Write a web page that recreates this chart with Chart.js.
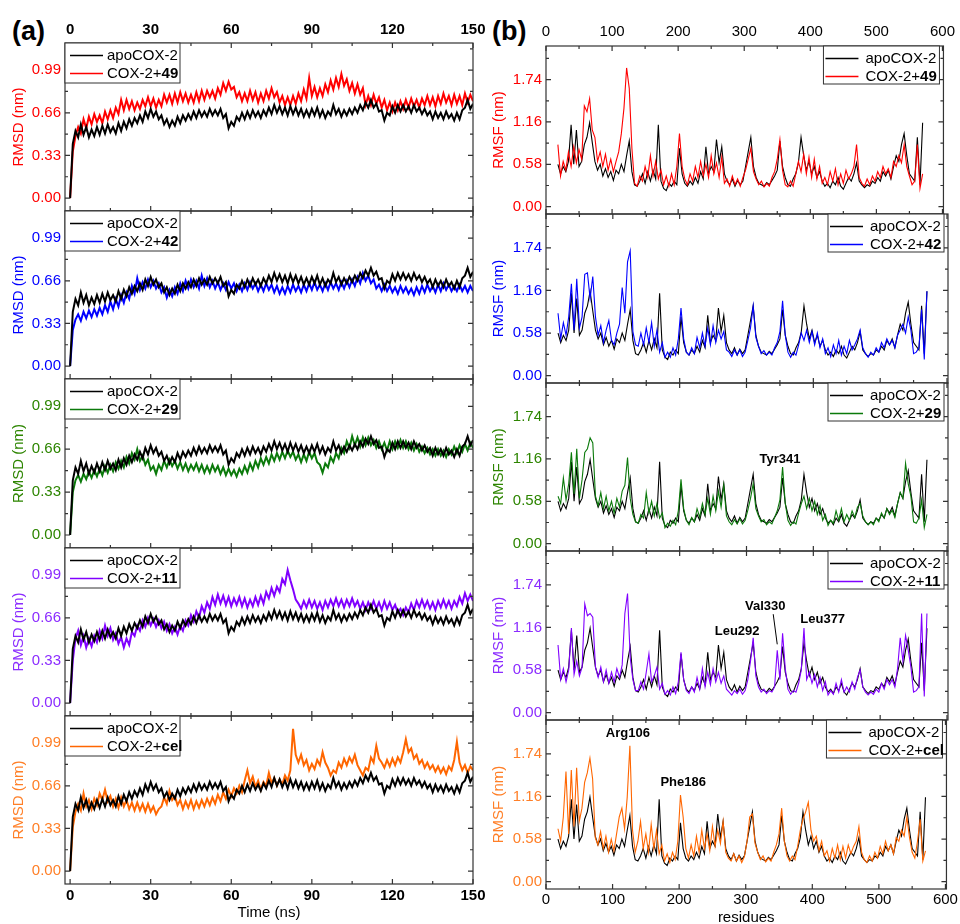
<!DOCTYPE html>
<html>
<head>
<meta charset="utf-8">
<script src="https://cdn.jsdelivr.net/npm/chart.js@4/dist/chart.umd.min.js"></script>
<style>
  html, body { margin: 0; padding: 0; background: #fff; width: 960px; height: 924px; overflow: hidden; }
  canvas { position: absolute; }
  .tag { position: absolute; font: bold 27px "Liberation Sans", Arial, sans-serif; line-height: 1; color: #000; }
</style>
</head>
<body>
<div class="tag" style="left:12px;top:18px">(a)</div>
<div class="tag" style="left:492px;top:18px">(b)</div>
<script>
// ---- data ----
var timeNs = [
  0,1,2,3,4,5,6,7,8,9,10,11,12,13,14,15,16,17,18,19,20,21,22,23,24,25,26,27,28,29,
  30,31,32,33,34,35,36,37,38,39,40,41,42,43,44,45,46,47,48,49,50,51,52,53,54,55,56,57,58,59,
  60,61,62,63,64,65,66,67,68,69,70,71,72,73,74,75,76,77,78,79,80,81,82,83,84,85,86,87,88,89,
  90,91,92,93,94,95,96,97,98,99,100,101,102,103,104,105,106,107,108,109,110,111,112,113,114,115,116,117,118,119,
  120,121,122,123,124,125,126,127,128,129,130,131,132,133,134,135,136,137,138,139,140,141,142,143,144,145,146,147,148,149,150
];

var rmsdApo = [
  0.00,0.42,0.52,0.47,0.57,0.49,0.55,0.47,0.53,0.48, 0.55,0.49,0.56,0.50,0.57,0.51,0.55,0.50,0.58,0.52,
  0.59,0.54,0.61,0.56,0.62,0.58,0.64,0.59,0.67,0.62, 0.69,0.63,0.67,0.61,0.64,0.57,0.61,0.55,0.60,0.56,
  0.63,0.58,0.64,0.60,0.65,0.61,0.67,0.62,0.68,0.63, 0.67,0.63,0.69,0.64,0.68,0.64,0.69,0.62,0.65,0.54,
  0.59,0.56,0.63,0.60,0.66,0.61,0.67,0.62,0.68,0.63, 0.67,0.62,0.68,0.64,0.70,0.65,0.72,0.66,0.71,0.65,
  0.70,0.64,0.71,0.65,0.70,0.64,0.69,0.63,0.68,0.63, 0.69,0.64,0.70,0.63,0.68,0.62,0.67,0.64,0.72,0.65,
  0.69,0.63,0.68,0.64,0.69,0.65,0.70,0.66,0.72,0.68, 0.74,0.70,0.76,0.70,0.73,0.67,0.68,0.60,0.66,0.64,
  0.71,0.66,0.72,0.67,0.72,0.67,0.71,0.66,0.72,0.67, 0.70,0.65,0.69,0.64,0.67,0.61,0.67,0.62,0.66,0.61,
  0.67,0.62,0.65,0.60,0.66,0.61,0.68,0.70,0.76,0.69, 0.73
];
var rmsd49 = [
  0.00,0.36,0.48,0.55,0.50,0.61,0.54,0.63,0.57,0.65, 0.59,0.64,0.58,0.67,0.61,0.68,0.62,0.70,0.65,0.76,
  0.68,0.76,0.69,0.75,0.68,0.74,0.69,0.76,0.71,0.78, 0.71,0.77,0.70,0.76,0.71,0.80,0.74,0.80,0.73,0.81,
  0.74,0.82,0.75,0.81,0.74,0.80,0.74,0.82,0.75,0.83, 0.76,0.83,0.78,0.83,0.77,0.85,0.80,0.89,0.83,0.90,
  0.84,0.86,0.78,0.82,0.75,0.81,0.75,0.83,0.76,0.82, 0.74,0.81,0.75,0.83,0.77,0.85,0.78,0.82,0.74,0.79,
  0.72,0.78,0.72,0.79,0.73,0.81,0.75,0.84,0.77,0.93, 0.79,0.86,0.78,0.85,0.79,0.88,0.82,0.91,0.84,0.93,
  0.86,0.96,0.87,0.92,0.83,0.89,0.81,0.88,0.80,0.85, 0.72,0.79,0.72,0.80,0.73,0.78,0.70,0.76,0.68,0.74,
  0.67,0.74,0.68,0.75,0.69,0.76,0.70,0.77,0.71,0.76, 0.70,0.77,0.72,0.79,0.72,0.78,0.71,0.79,0.73,0.81,
  0.74,0.79,0.72,0.80,0.73,0.79,0.72,0.81,0.74,0.80, 0.75
];
var rmsd42 = [
  0.00,0.28,0.36,0.40,0.35,0.42,0.37,0.43,0.38,0.44, 0.39,0.45,0.40,0.47,0.42,0.50,0.44,0.52,0.46,0.55,
  0.49,0.57,0.52,0.62,0.56,0.68,0.59,0.65,0.60,0.67, 0.61,0.66,0.60,0.64,0.57,0.61,0.53,0.59,0.54,0.61,
  0.56,0.64,0.58,0.66,0.60,0.67,0.61,0.66,0.60,0.70, 0.62,0.68,0.61,0.66,0.60,0.65,0.59,0.64,0.59,0.65,
  0.60,0.64,0.58,0.63,0.58,0.64,0.59,0.65,0.60,0.64, 0.58,0.63,0.58,0.64,0.59,0.63,0.57,0.62,0.56,0.61,
  0.56,0.62,0.57,0.63,0.58,0.62,0.57,0.63,0.58,0.64, 0.59,0.65,0.59,0.63,0.58,0.64,0.59,0.65,0.60,0.64,
  0.59,0.65,0.60,0.66,0.61,0.67,0.62,0.69,0.64,0.72, 0.66,0.70,0.64,0.67,0.60,0.63,0.58,0.63,0.58,0.62,
  0.57,0.61,0.56,0.62,0.57,0.61,0.56,0.60,0.55,0.61, 0.56,0.62,0.57,0.63,0.58,0.62,0.57,0.63,0.58,0.64,
  0.59,0.63,0.58,0.62,0.58,0.63,0.58,0.62,0.57,0.62, 0.58
];
var rmsd29 = [
  0.00,0.33,0.42,0.46,0.41,0.47,0.43,0.49,0.44,0.50, 0.45,0.51,0.46,0.53,0.48,0.54,0.49,0.56,0.51,0.57,
  0.52,0.60,0.55,0.63,0.58,0.66,0.57,0.61,0.54,0.58, 0.50,0.53,0.47,0.54,0.50,0.57,0.52,0.58,0.53,0.57,
  0.51,0.56,0.50,0.55,0.49,0.54,0.50,0.55,0.49,0.54, 0.48,0.53,0.48,0.54,0.49,0.53,0.47,0.52,0.46,0.51,
  0.46,0.50,0.45,0.51,0.47,0.53,0.48,0.55,0.50,0.57, 0.52,0.59,0.54,0.60,0.55,0.62,0.57,0.63,0.58,0.64,
  0.59,0.65,0.60,0.64,0.58,0.62,0.56,0.62,0.57,0.64, 0.59,0.63,0.56,0.54,0.48,0.55,0.52,0.60,0.56,0.63,
  0.59,0.67,0.63,0.72,0.67,0.76,0.69,0.75,0.68,0.75, 0.69,0.75,0.69,0.73,0.67,0.72,0.66,0.71,0.65,0.72,
  0.66,0.72,0.67,0.73,0.67,0.72,0.66,0.71,0.65,0.70, 0.64,0.68,0.63,0.67,0.62,0.66,0.61,0.66,0.61,0.65,
  0.60,0.66,0.62,0.68,0.63,0.69,0.64,0.70,0.65,0.71, 0.67
];
var rmsd11 = [
  0.00,0.33,0.50,0.56,0.45,0.52,0.43,0.50,0.44,0.52, 0.47,0.56,0.50,0.60,0.52,0.58,0.49,0.54,0.46,0.51,
  0.43,0.50,0.45,0.55,0.52,0.60,0.56,0.64,0.59,0.66, 0.60,0.65,0.59,0.64,0.58,0.63,0.56,0.61,0.54,0.59,
  0.53,0.60,0.56,0.64,0.60,0.68,0.63,0.71,0.66,0.75, 0.70,0.78,0.73,0.82,0.76,0.84,0.77,0.83,0.76,0.82,
  0.75,0.81,0.76,0.82,0.75,0.81,0.74,0.80,0.75,0.82, 0.76,0.83,0.77,0.86,0.81,0.89,0.83,0.90,0.86,0.96,
  0.92,1.03,0.95,0.88,0.80,0.77,0.73,0.79,0.74,0.80, 0.74,0.79,0.73,0.78,0.72,0.79,0.74,0.80,0.75,0.81,
  0.75,0.80,0.74,0.80,0.75,0.81,0.75,0.79,0.73,0.78, 0.72,0.78,0.73,0.79,0.73,0.78,0.72,0.79,0.73,0.78,
  0.72,0.76,0.70,0.73,0.68,0.74,0.70,0.77,0.72,0.79, 0.74,0.80,0.74,0.79,0.73,0.78,0.72,0.79,0.74,0.80,
  0.74,0.79,0.73,0.79,0.75,0.82,0.77,0.85,0.79,0.84, 0.79
];
var rmsdCel = [
  0.00,0.34,0.46,0.52,0.47,0.60,0.50,0.55,0.48,0.56, 0.51,0.60,0.55,0.63,0.54,0.58,0.50,0.56,0.49,0.57,
  0.50,0.55,0.48,0.53,0.47,0.53,0.47,0.52,0.46,0.52, 0.46,0.50,0.44,0.48,0.50,0.57,0.52,0.62,0.55,0.58,
  0.51,0.55,0.48,0.54,0.49,0.55,0.48,0.54,0.49,0.55, 0.50,0.56,0.51,0.57,0.52,0.59,0.54,0.61,0.56,0.63,
  0.58,0.64,0.60,0.66,0.61,0.70,0.78,0.68,0.73,0.65, 0.70,0.63,0.69,0.66,0.76,0.68,0.72,0.66,0.71,0.67,
  0.74,0.70,0.78,1.10,0.90,0.84,0.90,0.82,0.86,0.78, 0.83,0.79,0.86,0.82,0.92,0.84,0.80,0.74,0.78,0.76,
  0.84,0.80,0.87,0.82,0.88,0.84,0.90,0.82,0.78,0.74, 0.80,0.78,0.88,0.84,0.97,0.87,0.84,0.80,0.86,0.81,
  0.87,0.82,0.88,0.84,0.92,1.02,0.92,0.95,0.87,0.90, 0.83,0.86,0.80,0.84,0.79,0.82,0.77,0.81,0.76,0.80,
  0.75,0.81,0.78,0.86,1.00,0.84,0.78,0.82,0.76,0.81, 0.78
];

var residues = [
  18,22,26,30,34,38,42,46,50,54, 58,62,66,70,74,78,82,86,90,94,
  98,102,106,110,114,118,122,126,130,134, 138,142,146,150,154,158,162,166,170,174,
  178,182,186,190,194,198,202,206,210,214, 218,222,226,230,234,238,242,246,250,254,
  258,262,266,270,274,278,282,286,290,294, 298,302,306,310,314,318,322,326,330,334,
  338,342,346,350,354,358,362,366,370,374, 378,382,386,390,394,398,402,406,410,414,
  418,422,426,430,434,438,442,446,450,454, 458,462,466,470,474,478,482,486,490,494,
  498,502,506,510,514,518,522,526,530,534, 538,542,546,550,554,558,562,566,570
];

var rmsfApo = [
  0.58,0.45,0.55,0.48,0.62,1.12,0.58,1.05,0.55,0.62, 0.85,0.95,1.15,0.88,0.62,0.50,0.58,0.42,0.52,0.40,
  0.48,0.36,0.50,0.45,0.58,0.48,0.70,0.90,0.48,0.30, 0.28,0.35,0.45,0.32,0.48,0.35,0.50,0.38,1.12,0.35,
  0.25,0.22,0.32,0.28,0.35,0.30,0.80,0.45,0.32,0.28, 0.35,0.30,0.40,0.32,0.48,0.38,0.82,0.45,0.55,0.48,
  0.92,0.60,0.82,0.45,0.35,0.30,0.38,0.28,0.36,0.30, 0.35,0.55,0.75,0.95,0.55,0.40,0.32,0.30,0.28,0.33,
  0.30,0.36,0.42,0.50,0.90,0.55,0.40,0.30,0.28,0.38, 0.45,0.60,0.95,0.70,0.50,0.62,0.45,0.55,0.40,0.48,
  0.35,0.28,0.32,0.26,0.35,0.30,0.40,0.28,0.24,0.32, 0.40,0.35,0.45,0.60,0.35,0.30,0.26,0.30,0.28,0.35,
  0.32,0.40,0.35,0.48,0.42,0.50,0.38,0.55,0.70,0.62, 0.85,1.00,0.70,0.45,0.40,0.35,0.95,0.30,1.15
];
var rmsf49 = [
  0.85,0.42,0.62,0.50,0.75,0.55,0.82,0.60,0.78,0.65, 1.38,1.30,1.48,1.05,0.95,0.62,0.75,0.55,0.72,0.50,
  0.65,0.48,0.62,0.75,1.00,1.35,1.90,1.62,0.80,0.32, 0.28,0.42,0.35,0.55,0.40,0.70,0.42,0.62,0.38,0.50,
  0.30,0.42,0.28,0.45,0.30,0.55,1.00,0.55,0.38,0.30, 0.45,0.35,0.55,0.40,0.62,0.42,0.58,0.40,0.70,0.45,
  0.60,0.40,0.68,0.32,0.38,0.28,0.42,0.30,0.38,0.28, 0.40,0.50,0.65,0.80,0.48,0.38,0.30,0.35,0.27,0.32,
  0.28,0.40,0.48,0.65,0.92,0.50,0.30,0.27,0.35,0.28, 0.45,0.62,0.48,0.72,0.45,0.68,0.40,0.65,0.38,0.55,
  0.32,0.40,0.30,0.48,0.35,0.52,0.30,0.45,0.32,0.50, 0.38,0.45,0.55,0.85,0.40,0.32,0.28,0.38,0.30,0.42,
  0.35,0.48,0.40,0.55,0.45,0.52,0.40,0.62,0.55,0.70, 0.60,0.85,0.55,0.42,0.30,0.35,0.85,0.25,0.45
];
var rmsf42 = [
  0.85,0.50,0.72,0.55,0.80,1.25,0.62,1.32,0.65,0.80, 1.38,1.40,1.05,1.35,0.80,0.55,0.68,0.45,0.62,0.75,
  0.48,0.42,0.58,0.70,1.20,0.85,1.55,1.70,0.60,0.42, 0.40,0.58,0.42,0.65,0.45,0.72,0.40,0.62,0.32,0.45,
  0.25,0.32,0.25,0.38,0.28,0.50,0.92,0.50,0.32,0.28, 0.38,0.30,0.52,0.38,0.58,0.40,0.65,0.42,0.68,0.45,
  0.62,0.50,0.60,0.35,0.32,0.26,0.35,0.28,0.35,0.26, 0.32,0.48,0.65,0.95,0.52,0.40,0.30,0.34,0.28,0.32,
  0.28,0.38,0.45,0.60,1.02,0.55,0.32,0.25,0.32,0.28, 0.42,0.58,0.48,0.62,0.45,0.60,0.42,0.58,0.38,0.50,
  0.30,0.38,0.26,0.42,0.30,0.48,0.28,0.40,0.30,0.48, 0.35,0.42,0.50,0.62,0.38,0.30,0.25,0.32,0.28,0.38,
  0.32,0.45,0.38,0.50,0.42,0.48,0.38,0.55,0.62,0.70, 0.58,0.80,0.62,0.30,0.32,0.38,0.90,0.22,1.15
];
var rmsf29 = [
  0.65,0.55,0.90,0.60,0.82,1.25,0.68,1.30,0.62,0.88, 1.25,1.30,1.45,1.38,0.65,0.52,0.70,0.48,0.65,0.45,
  0.58,0.42,0.62,0.50,0.72,0.80,1.18,0.62,0.40,0.30, 0.28,0.40,0.35,0.70,0.42,0.58,0.38,0.55,0.35,0.42,
  0.22,0.28,0.24,0.32,0.26,0.45,0.88,0.48,0.32,0.26, 0.36,0.30,0.48,0.36,0.55,0.40,0.62,0.40,0.65,0.45,
  0.72,0.50,0.80,0.38,0.30,0.26,0.33,0.27,0.34,0.27, 0.32,0.46,0.62,0.82,0.48,0.38,0.30,0.33,0.26,0.30,
  0.27,0.36,0.45,0.60,1.05,0.55,0.32,0.25,0.30,0.27, 0.42,0.55,0.65,0.48,0.62,0.45,0.58,0.40,0.52,0.32,
  0.40,0.25,0.32,0.28,0.45,0.32,0.48,0.30,0.40,0.32, 0.45,0.36,0.50,0.55,0.38,0.30,0.26,0.30,0.26,0.35,
  0.30,0.42,0.35,0.48,0.40,0.46,0.36,0.55,0.70,0.62, 1.10,0.82,0.65,0.30,0.28,0.35,0.60,0.22,0.40
];
var rmsf11 = [
  0.92,0.45,0.60,0.42,0.58,1.15,0.52,0.70,0.50,0.62, 1.48,1.32,1.35,1.30,0.62,0.48,0.62,0.42,0.58,0.40,
  0.55,0.42,0.60,0.48,0.65,1.35,1.62,0.75,0.45,0.30, 0.30,0.42,0.32,0.55,0.80,0.42,0.50,0.62,0.32,0.40,
  0.25,0.30,0.24,0.35,0.26,0.42,0.82,0.45,0.30,0.26, 0.35,0.28,0.48,0.32,0.60,0.35,0.55,0.38,0.60,0.42,
  0.55,0.40,0.50,0.32,0.28,0.24,0.30,0.26,0.32,0.25, 0.30,0.45,0.70,1.02,0.50,0.35,0.28,0.32,0.26,0.30,
  0.28,0.35,0.85,0.45,1.08,0.60,0.32,0.25,0.30,0.28, 0.40,0.58,1.15,0.45,0.55,0.40,0.52,0.35,0.48,0.30,
  0.42,0.24,0.30,0.25,0.40,0.28,0.45,0.28,0.35,0.28, 0.42,0.32,0.48,0.58,0.35,0.28,0.24,0.28,0.25,0.32,
  0.28,0.40,0.32,0.45,0.38,0.45,0.35,0.60,1.02,0.70, 1.05,0.85,0.62,0.28,0.30,0.35,1.35,0.22,1.35
];
var rmsfCel = [
  0.72,0.55,0.88,1.50,0.65,1.52,0.75,1.55,0.82,1.00, 1.35,1.48,1.68,1.40,0.60,0.50,0.68,0.45,0.62,0.40,
  0.58,0.42,0.65,0.88,1.00,0.72,1.15,1.85,0.70,0.40, 0.55,0.82,0.45,0.65,0.40,0.78,0.45,0.70,0.38,0.50,
  0.28,0.38,0.26,0.40,0.30,0.55,1.18,0.88,0.45,0.32, 0.50,0.35,0.62,0.40,0.70,0.45,0.65,0.42,0.75,0.48,
  0.70,0.52,0.82,0.40,0.32,0.28,0.38,0.28,0.35,0.26, 0.34,0.55,0.88,0.92,0.52,0.40,0.30,0.35,0.27,0.32,
  0.28,0.40,0.50,0.65,1.00,0.55,0.35,0.28,0.35,0.30, 0.48,0.70,0.85,0.95,1.08,0.70,0.55,0.62,0.42,0.55,
  0.35,0.42,0.28,0.45,0.32,0.50,0.30,0.48,0.32,0.50, 0.38,0.48,0.55,0.75,0.40,0.30,0.26,0.35,0.28,0.40,
  0.32,0.48,0.38,0.55,0.42,0.50,0.38,0.60,0.55,0.70, 0.62,0.88,0.60,0.40,0.32,0.55,0.85,0.28,0.42
];

var ligands = ['49', '42', '29', '11', 'cel'];
var rmsdTicks = [0, 0.33, 0.66, 0.99];
var rmsfTicks = [0, 0.58, 1.16, 1.74];
var timeTicks = [0, 30, 60, 90, 120, 150];
var residueTicks = [0, 100, 200, 300, 400, 500, 600];

// residue labels placed in the RMSF panels (panel index, text, residue, nm)
var rmsfNotes = [
  { panel: 2, text: 'Tyr341', res: 350, val: 1.16 },
  { panel: 3, text: 'Leu292', res: 286, val: 1.11 },
  { panel: 3, text: 'Val330', res: 328, val: 1.44 },
  { panel: 3, text: 'Leu377', res: 414, val: 1.27 },
  { panel: 4, text: 'Arg106', res: 123, val: 2.02 },
  { panel: 4, text: 'Phe186', res: 206, val: 1.35 }
];
var val330Pointer = [[340, 1.34], [346, 0.93]];

// ---- styling / layout ----
var rmsdSets = [rmsd49, rmsd42, rmsd29, rmsd11, rmsdCel];
var rmsfSets = [rmsf49, rmsf42, rmsf29, rmsf11, rmsfCel];
var lineColors = ['#ff0000', '#0000ff', '#0b7a0b', '#8000ff', '#ff6600'];
var textColors = ['#ff0000', '#0000ff', '#2d8500', '#8b2cff', '#ff7f27'];
var leftTops = [43, 211, 379, 548, 716, 884];
var rightTops = [46, 214, 383, 551, 720, 889];
var TOP_H = 40, BOT_H = 38;
var FONT = '"Liberation Sans", Arial, sans-serif';

Chart.defaults.font.family = FONT;
Chart.defaults.font.size = 15;
Chart.defaults.color = '#000';

function tickMarks(major, lo, hi) {
  var step = major[1] - major[0];
  var out = major.map(function (v) { return { v: v, len: 5 }; });
  for (var v = major[0] - step / 2; v <= hi; v += step) {
    if (v >= lo) out.push({ v: v, len: 3 });
  }
  return out;
}

function makeDecor(cfg) {
  return {
    id: 'panelDecor',
    afterDatasetsDraw: function (chart) {
      var ctx = chart.ctx, a = chart.chartArea;
      var xs = chart.scales.x, ys = chart.scales.y;
      ctx.save();
      ctx.strokeStyle = '#333';
      ctx.lineWidth = 1.2;
      ctx.beginPath();
      tickMarks(cfg.xTicks, cfg.xMin, cfg.xMax).forEach(function (t) {
        var px = xs.getPixelForValue(t.v);
        ctx.moveTo(px, a.top); ctx.lineTo(px, a.top + t.len);
        ctx.moveTo(px, a.bottom); ctx.lineTo(px, a.bottom - t.len);
      });
      tickMarks(cfg.yTicks, cfg.yMin, cfg.yMax).forEach(function (t) {
        var py = ys.getPixelForValue(t.v);
        ctx.moveTo(a.left, py); ctx.lineTo(a.left + t.len, py);
        ctx.moveTo(a.right, py); ctx.lineTo(a.right - t.len, py);
      });
      ctx.stroke();
      ctx.strokeRect(a.left, a.top, a.right - a.left, a.bottom - a.top);

      // legend box
      var lx = cfg.side === 'left' ? a.left : a.right - 120;
      var lw = cfg.side === 'left' ? 115 : 116;
      var lh = cfg.side === 'left' ? 40 : 38;
      var sx = cfg.side === 'left' ? 5 : 2;
      ctx.fillStyle = '#fff';
      ctx.fillRect(lx, a.top, lw, lh);
      ctx.lineWidth = 1;
      ctx.strokeStyle = '#333';
      ctx.strokeRect(lx, a.top, lw, lh);
      var rows = [a.top + 12.5, a.top + 30.5];
      ctx.lineWidth = 1.5;
      ctx.strokeStyle = '#000';
      ctx.beginPath(); ctx.moveTo(lx + sx, rows[0]); ctx.lineTo(lx + sx + 33, rows[0]); ctx.stroke();
      ctx.strokeStyle = cfg.lineColor;
      ctx.beginPath(); ctx.moveTo(lx + sx, rows[1]); ctx.lineTo(lx + sx + 33, rows[1]); ctx.stroke();
      ctx.fillStyle = '#000';
      ctx.textBaseline = 'middle';
      ctx.textAlign = 'left';
      ctx.font = '15px ' + FONT;
      ctx.fillText('apoCOX-2', lx + 42, rows[0]);
      ctx.fillText('COX-2+', lx + 42, rows[1]);
      var w = ctx.measureText('COX-2+').width;
      ctx.font = 'bold 15px ' + FONT;
      ctx.fillText(cfg.tag, lx + 42 + w, rows[1]);

      // residue labels
      ctx.font = 'bold 13px ' + FONT;
      ctx.textAlign = 'center';
      (cfg.notes || []).forEach(function (n) {
        ctx.fillText(n.text, xs.getPixelForValue(n.res), ys.getPixelForValue(n.val));
      });
      if (cfg.pointer) {
        ctx.strokeStyle = '#000';
        ctx.lineWidth = 1;
        ctx.beginPath();
        ctx.moveTo(xs.getPixelForValue(cfg.pointer[0][0]), ys.getPixelForValue(cfg.pointer[0][1]));
        ctx.lineTo(xs.getPixelForValue(cfg.pointer[1][0]), ys.getPixelForValue(cfg.pointer[1][1]));
        ctx.stroke();
      }
      ctx.restore();
    }
  };
}

function pts(xs, ys) {
  return xs.map(function (x, i) { return { x: x, y: ys[i] }; });
}

function addPanel(cfg) {
  var cv = document.createElement('canvas');
  var h = cfg.height + TOP_H + BOT_H;
  cv.width = cfg.width; cv.height = h;
  cv.style.left = cfg.left + 'px';
  cv.style.top = (cfg.top - TOP_H) + 'px';
  cv.style.width = cfg.width + 'px';
  cv.style.height = h + 'px';
  document.body.appendChild(cv);

  function xAxis(pos, show) {
    return {
      type: 'linear', position: pos, min: cfg.xMin, max: cfg.xMax,
      afterBuildTicks: function (s) { s.ticks = cfg.xTicks.map(function (v) { return { value: v }; }); },
      afterFit: function (s) { s.height = pos === 'top' ? TOP_H : BOT_H; },
      grid: { display: false, drawTicks: false },
      border: { display: false },
      ticks: {
        display: show, autoSkip: false, maxRotation: 0, color: '#000',
        padding: pos === 'top' ? cfg.topPad : cfg.botPad,
        font: { size: 15, weight: cfg.xBold ? 'bold' : 'normal' },
        callback: function (v) { return String(v); }
      },
      title: {
        display: pos === 'bottom' && show, text: cfg.xTitle, color: '#000',
        font: { size: 15 }, padding: { top: 0, bottom: 0 }
      }
    };
  }

  var apoSet = { label: 'apoCOX-2', data: pts(cfg.xs, cfg.apo), borderColor: '#000', order: cfg.apoOnTop ? 0 : 1 };
  var ligSet = { label: 'COX-2+' + cfg.tag, data: pts(cfg.xs, cfg.lig), borderColor: cfg.lineColor, order: cfg.apoOnTop ? 1 : 0 };

  new Chart(cv, {
    type: 'line',
    data: { datasets: [apoSet, ligSet] },
    options: {
      responsive: false, animation: false, devicePixelRatio: 1, events: [],
      layout: { padding: { left: 0, right: cfg.padRight, top: 0, bottom: 0 } },
      elements: { point: { radius: 0 }, line: { borderWidth: cfg.lineW, tension: 0, fill: false, borderJoinStyle: 'miter' } },
      plugins: { legend: { display: false }, tooltip: { enabled: false } },
      scales: {
        x: xAxis('bottom', cfg.isBottom),
        xTop: xAxis('top', cfg.isTop),
        y: {
          min: cfg.yMin, max: cfg.yMax,
          afterBuildTicks: function (s) { s.ticks = cfg.yTicks.map(function (v) { return { value: v }; }); },
          afterFit: function (s) { s.width = cfg.axisW; },
          grid: { display: false, drawTicks: false },
          border: { display: false },
          ticks: { color: cfg.textColor, padding: 4, font: { size: 15 }, callback: function (v) { return v.toFixed(2); } },
          title: { display: true, text: cfg.yTitle, color: cfg.textColor, font: { size: 15 }, padding: { top: 10, bottom: 0 } }
        }
      }
    },
    plugins: [makeDecor(cfg)]
  });
}

for (var i = 0; i < 5; i++) {
  addPanel({
    left: 0, width: 490, padRight: 17, axisW: 65,
    top: leftTops[i], height: leftTops[i + 1] - leftTops[i],
    xs: timeNs, apo: rmsdApo, lig: rmsdSets[i], tag: ligands[i], lineW: 2,
    xMin: -1.9, xMax: 150, yMin: -0.1, yMax: 1.2,
    xTicks: timeTicks, yTicks: rmsdTicks, xBold: true, topPad: 4, botPad: 3,
    xTitle: 'Time (ns)', yTitle: 'RMSD (nm)',
    lineColor: lineColors[i], textColor: textColors[i],
    isTop: i === 0, isBottom: i === 4, side: 'left', apoOnTop: true
  });
  addPanel({
    left: 480, width: 480, padRight: 12, axisW: 66,
    top: rightTops[i], height: rightTops[i + 1] - rightTops[i],
    xs: residues, apo: rmsfApo, lig: rmsfSets[i], tag: ligands[i], lineW: 1.1,
    xMin: 0, xMax: 601.5, yMin: -0.1, yMax: 2.2,
    xTicks: residueTicks, yTicks: rmsfTicks, xBold: false, topPad: 5, botPad: 2,
    xTitle: 'residues', yTitle: 'RMSF (nm)',
    lineColor: lineColors[i], textColor: textColors[i],
    isTop: i === 0, isBottom: i === 4, side: 'right', apoOnTop: false,
    notes: rmsfNotes.filter(function (n) { return n.panel === i; }),
    pointer: i === 3 ? val330Pointer : null
  });
}
</script>
</body>
</html>
